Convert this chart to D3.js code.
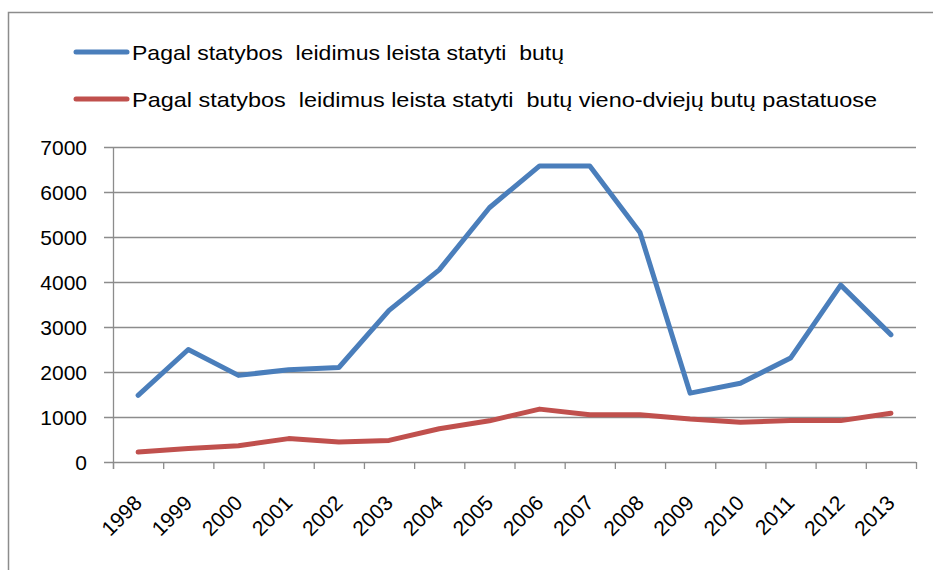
<!DOCTYPE html>
<html>
<head>
<meta charset="utf-8">
<script src="https://cdn.jsdelivr.net/npm/d3@7"></script>
<style>
  body { margin: 0; background: #fff; }
  text { font-family: "Liberation Sans", Arial, sans-serif; fill: #000; white-space: pre; }
</style>
</head>
<body>
<script>
var years = ["1998","1999","2000","2001","2002","2003","2004","2005","2006","2007","2008","2009","2010","2011","2012","2013"];
var allFlats = [1480, 2500, 1925, 2050, 2100, 3370, 4270, 5650, 6580, 6580, 5100, 1530, 1750, 2310, 3930, 2830];
var smallHouses = [220, 300, 360, 520, 445, 480, 740, 915, 1175, 1050, 1050, 955, 885, 920, 920, 1085];
var yTicks = [0, 1000, 2000, 3000, 4000, 5000, 6000, 7000];
var seriesNames = ["Pagal statybos  leidimus leista statyti  butų",
                   "Pagal statybos  leidimus leista statyti  butų vieno-dviejų butų pastatuose"];
var colors = ["#4A7EBB", "#C0504D"];

var width = 933, height = 570;
var plotLeft = 113, plotRight = 916, plotTop = 147, plotBottom = 462;

var svg = d3.select("body").append("svg")
    .attr("width", width)
    .attr("height", height);

// chart frame
svg.append("rect")
    .attr("x", 8.5).attr("y", 12.5)
    .attr("width", 940).attr("height", 600)
    .attr("fill", "none")
    .attr("stroke", "#8c8c8c")
    .attr("stroke-width", 1.5);

var x = d3.scaleBand().domain(years).range([plotLeft, plotRight]);
var y = d3.scaleLinear().domain([0, 7000]).range([plotBottom, plotTop]);

// gridlines
svg.append("g")
    .selectAll("line")
    .data(yTicks)
    .enter()
    .append("line")
    .attr("x1", plotLeft - 9)
    .attr("x2", plotRight)
    .attr("y1", function(d) { return y(d) + 0.5; })
    .attr("y2", function(d) { return y(d) + 0.5; })
    .attr("stroke", "#8c8c8c")
    .attr("stroke-width", 1.3);

// y axis line
svg.append("line")
    .attr("x1", plotLeft + 0.5).attr("x2", plotLeft + 0.5)
    .attr("y1", plotTop).attr("y2", plotBottom + 7)
    .attr("stroke", "#8c8c8c")
    .attr("stroke-width", 1.3);

// x ticks at category boundaries
var bounds = years.map(function(d) { return x(d); }).concat([plotRight]);
svg.append("g")
    .selectAll("line")
    .data(bounds)
    .enter()
    .append("line")
    .attr("x1", function(d) { return d + 0.5; })
    .attr("x2", function(d) { return d + 0.5; })
    .attr("y1", plotBottom)
    .attr("y2", plotBottom + 7)
    .attr("stroke", "#8c8c8c")
    .attr("stroke-width", 1.3);

// y labels
svg.append("g")
    .selectAll("text")
    .data(yTicks)
    .enter()
    .append("text")
    .attr("x", 87)
    .attr("y", function(d) { return y(d); })
    .attr("dy", "0.36em")
    .attr("text-anchor", "end")
    .attr("font-size", 21)
    .text(function(d) { return d; });

// x labels
svg.append("g")
    .selectAll("text")
    .data(years)
    .enter()
    .append("text")
    .attr("transform", function(d) {
        return "translate(" + (x(d) + x.bandwidth() / 2) + "," + (plotBottom + 37) + ") rotate(-45)";
    })
    .attr("text-anchor", "end")
    .attr("dy", "0.35em")
    .attr("font-size", 21)
    .text(function(d) { return d; });

// lines
var line = d3.line()
    .x(function(d, i) { return x(years[i]) + x.bandwidth() / 2; })
    .y(function(d) { return y(d); });

[allFlats, smallHouses].forEach(function(s, i) {
    svg.append("path")
        .datum(s)
        .attr("d", line)
        .attr("fill", "none")
        .attr("stroke", colors[i])
        .attr("stroke-width", 5)
        .attr("stroke-linejoin", "round")
        .attr("stroke-linecap", "round");
});

// legend
var legendY = [52, 99];
var legendLen = [432, 745];
seriesNames.forEach(function(name, i) {
    svg.append("line")
        .attr("x1", 76).attr("x2", 127)
        .attr("y1", legendY[i]).attr("y2", legendY[i])
        .attr("stroke", colors[i])
        .attr("stroke-width", 5)
        .attr("stroke-linecap", "round");
    svg.append("text")
        .attr("x", 132)
        .attr("y", legendY[i])
        .attr("dy", "0.36em")
        .attr("font-size", 21)
        .attr("textLength", legendLen[i])
        .attr("lengthAdjust", "spacingAndGlyphs")
        .text(name);
});
</script>
</body>
</html>
